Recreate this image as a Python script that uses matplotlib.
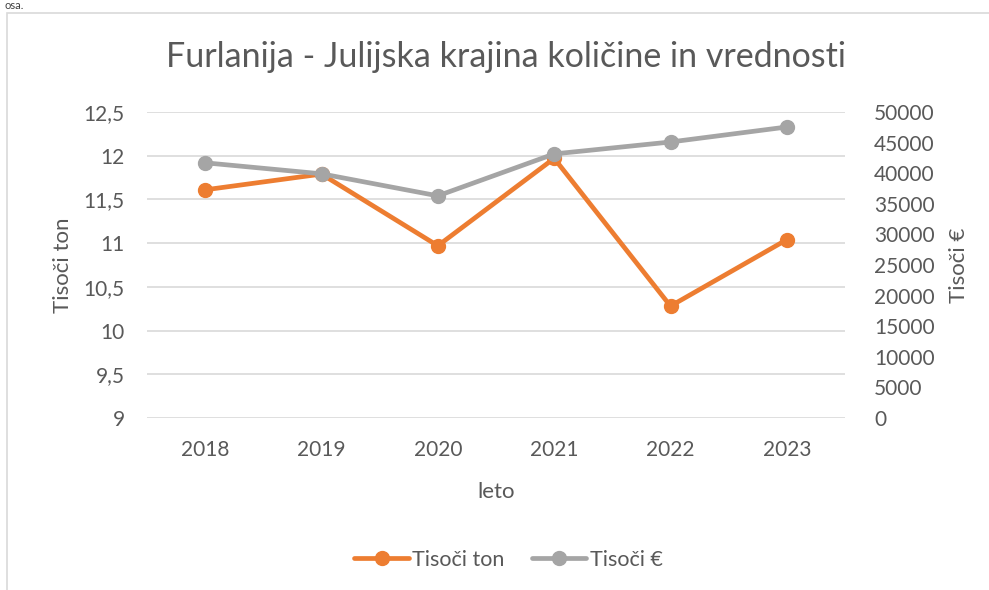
import matplotlib.pyplot as plt
from matplotlib.patches import Rectangle
from matplotlib.ticker import FuncFormatter

plt.rcParams['font.family'] = ['Lato', 'DejaVu Sans']

years = ['2018', '2019', '2020', '2021', '2022', '2023']
tisoci_ton = [11.61, 11.79, 10.97, 11.97, 10.28, 11.04]
tisoci_eur = [41700, 39900, 36300, 43150, 45100, 47550]

txt = '#595959'
orange = '#ED7D31'
gray = '#A5A5A5'

fig = plt.figure(figsize=(9.89, 5.9), dpi=100)
ax = fig.add_axes([147/989, 1-418/590, (845-147)/989, (418-112)/590])
ax2 = ax.twinx()

x = list(range(len(years)))
l1, = ax.plot(x, tisoci_ton, color=orange, lw=3.4, marker='o', ms=10,
              solid_capstyle='round', zorder=3, label='Tisoči ton')
l2, = ax2.plot(x, tisoci_eur, color=gray, lw=3.4, marker='o', ms=10,
               solid_capstyle='round', zorder=3, label='Tisoči €')

ax.set_xlim(-0.5, 5.5)
ax.set_ylim(9, 12.5)
ax.set_yticks([9 + 0.5*i for i in range(8)])
ax.yaxis.set_major_formatter(FuncFormatter(lambda v, p: ('%g' % v).replace('.', ',')))
ax2.set_ylim(0, 50000)
ax2.set_yticks(range(0, 50001, 5000))

ax.set_xticks(x)
ax.set_xticklabels(years)
ax.grid(axis='y', color='#D9D9D9', lw=1.2)
ax.set_axisbelow(True)
for a in (ax, ax2):
    for s in a.spines.values():
        s.set_visible(False)
    a.tick_params(length=0, labelsize=15, colors=txt)
ax.tick_params(axis='y', pad=16)
ax.tick_params(axis='x', pad=16)
ax2.tick_params(axis='y', pad=21)

ax.set_xlabel('leto', fontsize=16, color=txt, labelpad=16)
ax.set_ylabel('Tisoči ton', fontsize=16, color=txt, labelpad=8)
ax2.set_ylabel('Tisoči €', fontsize=16, color=txt, labelpad=10)

fig.text(0.512, 1-57/590, 'Furlanija - Julijska krajina količine in vrednosti',
         ha='center', va='center', fontsize=24.5, color=txt)

fig.legend([l1, l2], ['Tisoči ton', 'Tisoči €'], loc='center',
           bbox_to_anchor=(0.514, 1-560/590), ncol=2, frameon=False,
           fontsize=15.5, labelcolor=txt, handlelength=2.55, columnspacing=1.25,
           handletextpad=0.15)

fig.patches.append(Rectangle((7/989, -0.1), 1.2, 1.1 - 13/590,
                             transform=fig.transFigure, fill=False,
                             edgecolor='#D9D9D9', lw=1.2))
fig.text(0.005, 1-11/590, 'osa.', ha='left', va='bottom', fontsize=8, color='#404040')

fig.savefig('out.png', dpi=100)
